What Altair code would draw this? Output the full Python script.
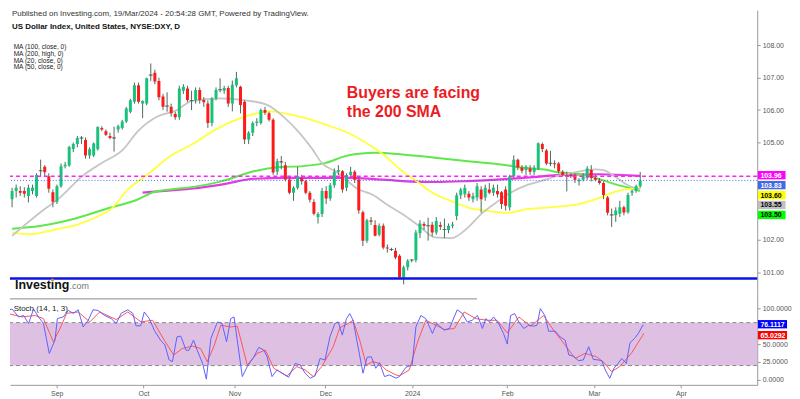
import altair as alt
import pandas as pd

FONT = "Liberation Sans"
W = 752
H_PRICE = 285
H_STOCH = 92

X_DOMAIN = [-11.298, 169.47]
PRICE_DOMAIN = [100.3405, 109.0828]
STOCH_DOMAIN = [-6.944, 120.833]

UP = "#17c27b"
DOWN = "#ff1a1a"
WICK = "#4d6b5d"

# ---- daily candles (bar index 0 = 1 Sep 2023, one bar per weekday) ----
first_index = -12
opens = [
    103.25, 103.5, 103.5, 103.5, 103.35, 103.5, 103.35, 104.12, 104.25, 103.96,
    103.46, 103.17, 103.65, 104.27, 104.29, 104.8, 104.95, 105.13, 105.08, 104.6,
    104.6, 104.79, 105.45, 105.35, 105.2, 105.15, 105.4, 105.45, 105.65, 105.95,
    106.26, 106.77, 106.2, 106.2, 107.07, 107.15, 106.9, 106.42, 106.12, 106.1,
    105.88, 105.78, 106.6, 106.67, 106.29, 106.3, 106.62, 106.31, 106.2, 105.6,
    106.36, 106.62, 106.6, 106.68, 106.2, 106.77, 106.72, 106.26, 105.09, 105.3,
    105.6, 105.6, 106.0, 105.9, 105.7, 104.1, 104.41, 104.3, 103.86, 103.45,
    103.6, 103.9, 103.8, 103.45, 103.16, 102.7, 102.79, 103.5, 103.27, 103.68,
    104.1, 104.11, 103.6, 104.0, 104.1, 103.86, 102.85, 101.97, 102.6, 102.45,
    102.15, 102.43, 101.76, 101.7, 101.66, 101.5, 100.84, 101.15, 101.37, 101.37,
    102.2, 102.48, 102.43, 102.46, 102.22, 102.45, 102.3, 102.3, 102.43, 102.73,
    103.37, 103.4, 103.42, 103.25, 103.3, 103.55, 103.3, 103.55, 103.45, 103.5,
    103.46, 103.55, 103.0, 103.96, 104.47, 104.23, 104.15, 104.2, 104.1, 104.2,
    104.95, 104.75, 104.35, 104.36, 104.35, 104.1, 104.0, 104.0, 104.0, 103.8,
    103.85, 103.9, 104.15, 103.9, 103.82, 103.75, 103.3, 102.77, 102.75, 102.8,
    103.0, 102.85, 103.45, 103.5, 103.65,
]
highs = [
    103.6, 103.7, 103.65, 103.62, 103.7, 103.7, 104.05, 104.47, 104.3, 104.05,
    103.55, 103.7, 104.35, 104.4, 104.9, 105.0, 105.2, 105.2, 105.15, 104.85,
    105.0, 105.5, 105.5, 105.4, 105.3, 105.49, 105.55, 105.7, 106.1, 106.35,
    106.85, 106.85, 106.3, 107.0, 107.44, 107.25, 107.0, 106.5, 106.55, 106.2,
    105.95, 106.75, 106.8, 106.75, 106.6, 106.7, 106.7, 106.4, 106.3, 106.4,
    106.7, 106.98, 106.75, 106.75, 106.91, 107.18, 106.75, 106.3, 105.35, 105.65,
    105.75, 106.05, 106.1, 105.95, 105.75, 104.5, 104.58, 104.4, 103.95, 103.65,
    104.25, 104.0, 103.85, 103.5, 103.25, 102.85, 103.6, 103.65, 103.75, 104.2,
    104.3, 104.15, 104.05, 104.25, 104.15, 103.95, 102.9, 102.65, 102.7, 102.6,
    102.5, 102.5, 101.85, 101.75, 101.75, 101.55, 101.2, 101.4, 101.4, 102.3,
    102.6, 102.55, 102.68, 102.55, 102.7, 102.55, 102.65, 102.5, 102.55, 103.45,
    103.6, 103.7, 103.5, 103.45, 103.75, 103.65, 103.7, 103.75, 103.7, 103.7,
    103.5, 103.65, 104.0, 104.6, 104.5, 104.3, 104.3, 104.3, 104.3, 105.0,
    105.0, 104.8, 104.74, 104.45, 104.4, 104.15, 104.1, 104.05, 104.05, 103.9,
    104.05, 104.27, 104.3, 104.0, 103.9, 103.8, 103.35, 102.96, 103.0, 103.2,
    103.05, 103.45, 103.55, 103.7, 104.09,
]
lows = [
    103.0, 103.3, 103.35, 103.3, 103.15, 103.4, 103.3, 103.95, 103.95, 103.45,
    103.0, 103.1, 103.6, 104.2, 104.25, 104.7, 104.85, 104.95, 104.5, 104.5,
    104.55, 104.75, 105.35, 105.2, 105.1, 104.72, 105.3, 105.4, 105.6, 105.9,
    106.2, 106.2, 105.75, 106.15, 106.9, 106.8, 106.3, 106.0, 105.95, 105.8,
    105.7, 105.7, 106.5, 106.25, 106.0, 106.2, 106.2, 106.1, 105.45, 105.5,
    106.3, 106.55, 106.5, 106.1, 105.96, 106.7, 105.9, 104.95, 104.95, 105.2,
    105.5, 105.55, 105.85, 105.65, 104.0, 104.0, 104.17, 103.8, 103.4, 103.2,
    103.55, 103.7, 103.4, 103.15, 102.75, 102.5, 102.7, 103.1, 103.2, 103.6,
    104.0, 103.45, 103.5, 103.95, 103.75, 102.8, 101.8, 101.9, 102.45, 102.1,
    102.1, 101.7, 101.6, 101.65, 101.4, 100.8, 100.62, 101.05, 101.3, 101.3,
    102.05, 102.3, 101.97, 102.1, 102.15, 102.3, 102.05, 102.2, 102.35, 102.6,
    103.25, 103.3, 103.2, 103.15, 103.2, 102.83, 103.2, 103.4, 103.35, 103.3,
    102.95, 102.9, 102.9, 103.9, 104.15, 104.05, 104.0, 104.0, 104.0, 104.15,
    104.7, 104.3, 104.27, 104.2, 104.05, 103.95, 103.49, 103.9, 103.75, 103.67,
    103.8, 103.85, 103.8, 103.8, 103.7, 103.25, 102.75, 102.39, 102.55, 102.7,
    102.75, 102.8, 103.35, 103.45, 103.6,
]
closes = [
    103.5, 103.6, 103.45, 103.42, 103.6, 103.6, 104.0, 104.13, 104.08, 103.57,
    103.17, 103.65, 104.27, 104.31, 104.86, 104.95, 105.14, 105.14, 104.6, 104.79,
    104.97, 105.48, 105.4, 105.24, 105.14, 105.14, 105.5, 105.65, 106.05, 106.3,
    106.77, 106.26, 106.28, 106.98, 107.08, 106.88, 106.4, 106.1, 106.13, 105.9,
    105.78, 106.67, 106.72, 106.31, 106.3, 106.62, 106.31, 106.24, 105.6, 106.35,
    106.62, 106.63, 106.68, 106.2, 106.78, 106.98, 106.16, 105.09, 105.3, 105.6,
    105.65, 106.0, 105.92, 105.7, 104.07, 104.42, 104.4, 103.86, 103.45, 103.6,
    103.96, 103.8, 103.45, 103.23, 102.8, 102.79, 103.5, 103.27, 103.68, 104.1,
    104.15, 103.55, 104.0, 104.1, 103.85, 102.9, 101.97, 102.6, 102.55, 102.12,
    102.43, 101.76, 101.73, 101.7, 101.45, 100.84, 101.15, 101.35, 101.37, 102.22,
    102.5, 102.43, 102.43, 102.22, 102.58, 102.4, 102.31, 102.43, 102.47, 103.37,
    103.55, 103.6, 103.3, 103.35, 103.65, 103.25, 103.6, 103.45, 103.6, 103.4,
    103.1, 103.05, 103.96, 104.47, 104.23, 104.13, 104.25, 104.1, 104.22, 104.98,
    104.8, 104.35, 104.36, 104.33, 104.11, 104.0, 103.95, 103.96, 103.85, 103.85,
    103.97, 104.2, 103.9, 103.85, 103.75, 103.38, 102.83, 102.76, 102.9, 103.0,
    102.84, 103.38, 103.5, 103.65, 103.83,
]

# ---- moving averages (bar index, value) ----
ma20_x = [-12, -5.2, 0, 5.2, 10, 15.2, 18.8, 23.6, 28.4, 32, 39, 44.8, 50.5, 54.5, 58.5, 61.7, 63.9, 67.3, 73, 76.5,
          79.7, 83.7, 87.7, 91.7, 95.7, 99.8, 103, 106.2, 110.2, 114.5, 118.2, 121.4, 125.4, 131, 133, 135.8, 139, 142]
ma20_y = [102.12, 102.83, 103.33, 103.96, 104.37, 104.78, 105.34, 105.8, 106.0, 106.28, 106.36, 106.31, 106.16, 105.8,
          105.29, 104.78, 104.37, 104.11, 103.55, 103.38, 103.1, 102.79, 102.43, 102.07, 102.05, 102.38, 102.79, 103.1,
          103.45, 103.7, 103.83, 103.96, 104.06, 104.17, 104.15, 103.95, 103.68, 103.55]
ma50_x = [-12, -7.6, -1.2, 4.4, 9.2, 12.4, 16.4, 21.2, 26.8, 32.5, 37.7, 44, 51.3, 57.7, 64.9, 71.3, 76.5, 79, 83.7, 87.7,
          91.7, 95.7, 99.8, 104.6, 109.4, 114.2, 121, 126.6, 132.2, 136.2, 139.8, 142]
ma50_y = [102.22, 102.17, 102.32, 102.48, 102.73, 102.96, 103.55, 104.01, 104.58, 104.97, 105.39, 105.75, 105.96, 105.82,
          105.55, 105.24, 104.85, 104.63, 104.11, 103.76, 103.40, 103.19, 102.99, 102.89, 102.83, 102.94, 103.01, 103.09,
          103.3, 103.49, 103.57, 103.6]
ma100_x = [-12, -5.2, 2.8, 10.8, 18.8, 22.8, 26.8, 32.5, 39.3, 47.3, 53.7, 59.3, 64.9, 69.7, 73.7, 77, 83.7, 91.7, 99.8,
           107.8, 114.2, 119, 121.4, 128.2, 132.2, 136.2, 140.2, 142]
ma100_y = [102.34, 102.42, 102.63, 102.94, 103.24, 103.47, 103.55, 103.63, 103.8, 104.11, 104.24, 104.27, 104.37, 104.58,
           104.66, 104.68, 104.63, 104.53, 104.42, 104.32, 104.21, 104.16, 104.09, 104.0, 103.86, 103.7, 103.57, 103.5]
ma200_x = [20, 26.8, 32.5, 39.3, 47.3, 55.3, 63.3, 71.3, 76.9, 83.7, 91.7, 99.8, 107.8, 115.8, 121.4, 132, 142]
ma200_y = [103.45, 103.52, 103.58, 103.7, 103.88, 103.91, 103.91, 103.91, 103.87, 103.81, 103.78, 103.81, 103.86, 103.93,
           103.99, 104.02, 103.97]

# ---- stochastic (14, 1, 3) ----
k_x = [-12, -10.8, -9.2, -8, -6.8, -5.6, -4.4, -3.2, -1.8, -0.4, 0.15, 1.6, 2.8, 4, 5.2, 6.4, 7.6, 8.8, 10, 11.6,
       13.2, 14.4, 15.6, 17.2, 18.4, 19.2, 20.3, 21.2, 22.4, 23.6, 25.1, 26.2, 27.2, 28, 29.1, 30, 31.3, 32, 33.1, 34,
       35.3, 36.2, 37.3, 38.9, 40, 41.1, 42.1, 42.9, 44.9, 46.1, 47.7, 48.9, 50.1, 50.9, 52.1, 53.3, 54.5, 56.1, 57.7,
       58.9, 60.1, 61.3, 62.5, 63.7, 64.9, 66.1, 67.3, 68.1, 69.1, 70.1, 70.9, 71.7, 72.9, 74.1, 75.1, 76.1, 77.2, 78.1,
       79.3, 80.5, 82.1, 82.9, 84.5, 86, 86.9, 88.1, 89.3, 90.9, 91.9, 93.8, 95, 96.9, 98.1, 99.3, 100.5, 101.8, 103,
       103.8, 104.7, 105.7, 106.9, 108.1, 109, 109.8, 110.8, 111.8, 113, 114.2, 115.4, 116.2, 117, 118.1, 119, 120.6,
       121.8, 123, 123.9, 125, 126.2, 127.4, 128.7, 129.8, 131, 131.9, 132.7, 133.8, 134.8, 135.8, 136.7, 137.8, 138.7,
       139.8, 140.7, 141.8, 142]
k_y = [97.2, 99, 87.9, 90, 78.7, 99, 88, 78.7, 37, 55.6, 85.6, 88, 97, 93, 98, 74, 83, 98, 97, 90, 85.6, 78.7, 93, 98,
       93, 75.5, 75.5, 94.9, 85.6, 69.4, 55.6, 48.6, 27.8, 25.5, 60, 61.3, 41.4, 41.4, 55.6, 41.4, 23, 1, 57.8, 81, 78.7,
       53.2, 85.6, 88, 4.6, 18.5, 32.4, 45.4, 41.7, 32.4, 4.6, 13.9, 9.3, 3.7, 23, 20.8, 9.3, 2.3, 5.6, 30, 27.8, 60,
       78.7, 81, 62.5, 85.6, 92.6, 83.3, 46.3, 9.3, 31.5, 32.4, 16.2, 24, 4.6, 6.9, 2.3, 4.6, 17.6, 20.8, 74, 90, 85.6,
       64.8, 78.7, 69.4, 71.8, 98, 93, 81, 83.3, 90, 71.8, 85.6, 81, 88, 78.7, 64.8, 50, 90, 92.6, 81, 71.8, 76.4, 75,
       76.4, 99.5, 90, 68, 68, 60, 55.6, 34.7, 33.3, 26.9, 27.8, 46.3, 28.7, 27.8, 26.9, 13.9, 2.3, 16.2, 23, 30, 23, 52,
       57.9, 64.8, 76.4, 76.11]
d_x = [-12, -8.4, -5.2, -3.2, -0.8, 0.8, 2.4, 5.2, 8, 10.4, 14.4, 17.2, 20.4, 23.2, 26, 28.3, 30.4, 32.9, 34.8, 36.4,
       38, 39.7, 42.1, 43.7, 46.1, 48.5, 50.5, 52.5, 55.7, 58.1, 60.1, 62.1, 64.1, 66.9, 68.5, 70.5, 71.7, 73.3, 74.9,
       76.5, 78.1, 79.7, 82.1, 82.9, 85.3, 87.3, 89.3, 91.7, 93.8, 96.2, 98.6, 101.4, 104.2, 106.5, 109, 111.8, 114.6,
       117.8, 120.2, 123, 125.4, 127.8, 130.6, 132.6, 134.2, 136.2, 139, 141.8, 142]
d_y = [93, 88, 90, 85.6, 53.2, 71.8, 93, 94.9, 81, 94.9, 84.3, 94.9, 81, 83.3, 55.6, 34.7, 43.9, 47.2, 43.9, 25.5, 46.3,
       76.4, 74, 75, 20.8, 37, 41.7, 16.2, 5.6, 18.5, 13.9, 4.6, 18.5, 46.3, 73, 78.7, 83.3, 55.6, 20.8, 25.5, 23, 13.9,
       6.9, 5.6, 13.9, 53, 83.3, 76.4, 70.4, 71.8, 94.9, 85.6, 83.3, 83.3, 65.7, 88, 75, 90, 69.4, 48.6, 30, 37, 32.4,
       23, 11.6, 18.5, 37, 62.5, 65.03]

price_ticks = [101, 102, 105, 106, 107, 108]
stoch_ticks = [0, 25, 50, 100]
stoch_levels = [20, 80]
month_index = [0, 21, 43, 65, 86, 109, 130, 151]
month_labels = ["Sep", "Oct", "Nov", "Dec", "2024", "Feb", "Mar", "Apr"]

price_tags = [("103.96", "#ff00ff", "white"), ("103.83", "#4169e1", "white"), ("103.60", "#ffff00", "black"),
              ("103.55", "#c0c0c0", "black"), ("103.50", "#00ff00", "black")]
stoch_tags = [("76.1117", "#0000ff", "white"), ("65.0292", "#ff0000", "white")]

# ---------------------------------------------------------------------
xscale = alt.Scale(domain=X_DOMAIN, nice=False, zero=False)
pscale = alt.Scale(domain=PRICE_DOMAIN, nice=False, zero=False)
sscale = alt.Scale(domain=STOCH_DOMAIN, nice=False, zero=False)

axis_style = dict(title=None, grid=False, labelFont=FONT, labelFontSize=7, labelColor="#555",
                  tickColor="#999", tickSize=3, domainColor="#999", labelPadding=2)
price_axis = alt.Axis(orient="right", values=price_ticks, format=".2f", **axis_style)
stoch_axis = alt.Axis(orient="right", values=stoch_ticks, format=".4f", **axis_style)
label_expr = "".join(f"datum.value == {v} ? '{l}' : " for v, l in zip(month_index, month_labels)) + "''"
x_axis = alt.Axis(orient="bottom", values=month_index, labelExpr=label_expr, **axis_style)


def PX(f="i"):
    return alt.X(f"{f}:Q", scale=xscale, axis=None)


def PY(f):
    return alt.Y(f"{f}:Q", scale=pscale, axis=price_axis)


def SX(f="i"):
    return alt.X(f"{f}:Q", scale=xscale, axis=x_axis)


def SY(f):
    return alt.Y(f"{f}:Q", scale=sscale, axis=stoch_axis)


def txt(s, x, y, size, color="#222", weight="normal", align="left", baseline="middle"):
    return alt.Chart(pd.DataFrame({"t": [s]})).mark_text(
        font=FONT, fontSize=size, color=color, fontWeight=weight, align=align, baseline=baseline
    ).encode(text="t:N", x=alt.value(x), y=alt.value(y))


def tag(s, fill, fg, x1, x2, yc):
    d = pd.DataFrame({"t": [s]})
    r = alt.Chart(d).mark_rect(fill=fill).encode(
        x=alt.value(x1), x2=alt.value(x2), y=alt.value(yc - 4.2), y2=alt.value(yc + 4.2))
    t = alt.Chart(d).mark_text(font=FONT, fontSize=7, fontWeight="bold", color=fg, align="left",
                               baseline="middle").encode(text="t:N", x=alt.value(x1 + 2.5), y=alt.value(yc + 0.5))
    return [r, t]


n = len(opens)
cdf = pd.DataFrame({"i": list(range(first_index, first_index + n)), "open": opens, "high": highs,
                    "low": lows, "close": closes})


def ma(xs, ys, color, width=1.8):
    return alt.Chart(pd.DataFrame({"i": xs, "v": ys})).mark_line(
        color=color, strokeWidth=width, interpolate="monotone", clip=True).encode(x=PX(), y=PY("v"))


layers = [
    ma(ma200_x, ma200_y, "#e23be2", 2.2),
    ma(ma100_x, ma100_y, "#5fe84c", 2.0),
    ma(ma50_x, ma50_y, "#ffff3a", 1.8),
    ma(ma20_x, ma20_y, "#c6c6c6", 1.8),
    alt.Chart(cdf).mark_rule(color=WICK, strokeWidth=1, clip=True).encode(x=PX(), y=PY("low"), y2="high:Q"),
    alt.Chart(cdf).mark_bar(size=3, clip=True).encode(
        x=PX(), y=PY("open"), y2="close:Q",
        color=alt.condition("datum.close >= datum.open", alt.value(UP), alt.value(DOWN))),
    alt.Chart(cdf).transform_filter("abs(datum.close - datum.open) <= 0.02").mark_tick(
        orient="horizontal", size=4, thickness=1, color="#333", clip=True).encode(x=PX(), y=PY("close")),
    alt.Chart(pd.DataFrame({"v": [103.96]})).mark_rule(color="#ff22ff", strokeWidth=1.6, strokeDash=[4, 3]).encode(y=PY("v")),
    alt.Chart(pd.DataFrame({"v": [103.83]})).mark_rule(color="#4169e1", strokeWidth=1, strokeDash=[1, 2]).encode(y=PY("v")),
    alt.Chart(pd.DataFrame({"v": [100.80]})).mark_rule(color="#0a14e6", strokeWidth=2.5).encode(y=PY("v")),
    txt("Published on Investing.com, 19/Mar/2024 - 20:54:28 GMT, Powered by TradingView.", 2, 3.5, 8, "#333"),
    txt("US Dollar Index, United States, NYSE:DXY, D", 2, 17, 8, "#111", "bold"),
    txt("MA (100, close, 0)", 3.7, 37.5, 6.6, "#222"),
    txt("MA (200, high, 0)", 3.7, 44.2, 6.6, "#222"),
    txt("MA (20, close, 0)", 3.7, 50.9, 6.6, "#222"),
    txt("MA (50, close, 0)", 3.7, 57.6, 6.6, "#222"),
    txt("Buyers are facing", 339, 88.7, 16, "#ec1c24", "bold", baseline="alphabetic"),
    txt("the 200 SMA", 339, 107, 16, "#ec1c24", "bold", baseline="alphabetic"),
    txt("Investing", 5, 280.3, 12.5, "#111", "bold", baseline="alphabetic"),
    txt(".com", 60, 280.3, 9, "#777", baseline="alphabetic"),
    alt.Chart(pd.DataFrame({"t": ["dot"]})).mark_point(filled=True, color="#f39200", size=7, opacity=1).encode(
        x=alt.value(42.7), y=alt.value(271.2)),
]
for k, (s, fill, fg) in enumerate(price_tags):
    layers += tag(s, fill, fg, W + 0.7, W + 28.5, 166 + 10 * k)

price = alt.layer(*layers).properties(width=W, height=H_PRICE)

kdf = pd.DataFrame({"i": k_x, "v": k_y})
ddf = pd.DataFrame({"i": d_x, "v": d_y})
slayers = [
    alt.Chart(pd.DataFrame({"hi": [stoch_levels[1]], "lo": [stoch_levels[0]]})).mark_rect(color="#dec1e2").encode(
        y=SY("hi"), y2="lo:Q", x=alt.value(0), x2=alt.value(W)),
    alt.Chart(pd.DataFrame({"v": stoch_levels})).mark_rule(color="#8a8a8a", strokeDash=[4, 3], strokeWidth=1).encode(y=SY("v")),
    alt.Chart(pd.DataFrame({"t": ["line"]})).mark_rule(color="#8a8a8a", strokeWidth=1).encode(
        x=alt.value(0), x2=alt.value(470), y=alt.value(5.5)),
    alt.Chart(ddf).mark_line(color="#ff5555", strokeWidth=1, clip=True).encode(x=SX(), y=SY("v")),
    alt.Chart(kdf).mark_line(color="#6060ff", strokeWidth=1, clip=True).encode(x=SX(), y=SY("v")),
    txt("Stoch (14, 1, 3)", 3.7, 15.5, 8, "#222"),
]
for k, (s, fill, fg) in enumerate(stoch_tags):
    slayers += tag(s, fill, fg, W + 0.7, W + 30, 31 + 11 * k)

stoch = alt.layer(*slayers).properties(width=W, height=H_STOCH)

chart = alt.vconcat(price, stoch, spacing=0).properties(padding=0, background="white").configure(
    font=FONT).configure_view(stroke=None)

chart.save("out.html", embed_options={"renderer": "svg", "actions": False})
